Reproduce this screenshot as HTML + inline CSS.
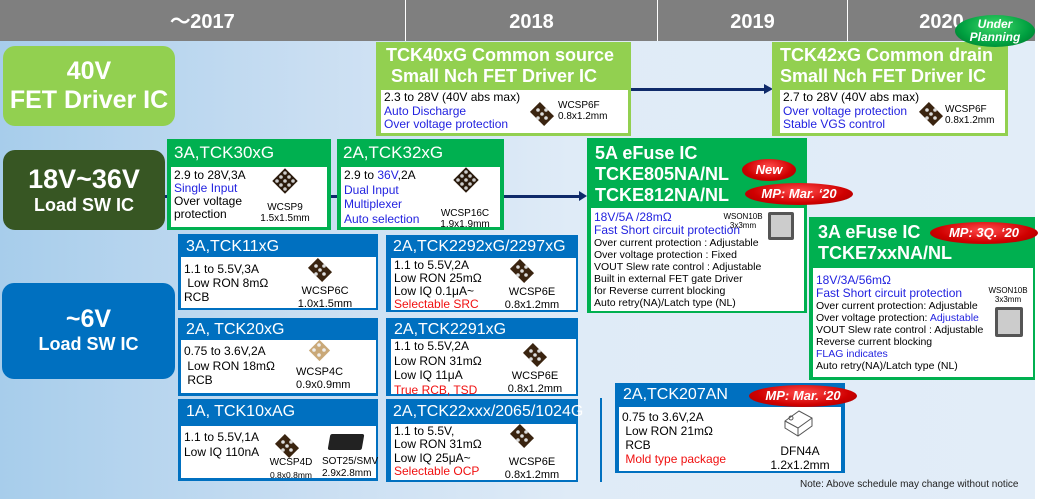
<!DOCTYPE html>
<html><head><meta charset="utf-8"><style>
*{margin:0;padding:0;box-sizing:border-box}
body{width:1043px;height:499px;position:relative;overflow:hidden;background:#fff;font-family:"Liberation Sans","DejaVu Sans",sans-serif}
.a{position:absolute}
.hd{top:0;height:41px;background:#7f7f7f;color:#fff;font-weight:bold;font-size:20px;text-align:center;line-height:44px}
.w{position:absolute;background:#fff;font-size:12px;line-height:13px;color:#000;padding:2px 3px}
.t{position:absolute;color:#fff;white-space:nowrap}
.b{color:#2323e0}.r{color:#f01010}
.pk{position:absolute;font-size:10px;line-height:11px;text-align:center;white-space:nowrap;width:80px;margin-left:-40px}
.oval{position:absolute;border-radius:50%;background:radial-gradient(ellipse at 50% 35%,#ff4a4a,#d00000 60%,#900);color:#fff;font-weight:bold;font-style:italic;text-align:center;white-space:nowrap}
</style></head><body>
<div class="a" style="left:0;top:41px;width:1035px;height:458px;background:linear-gradient(90deg,#a7cdeb 0%,#c9def2 30%,#dfebf7 55%,#e2edf8 100%)"></div>
<div class="a hd" style="left:0;width:405px">～2017</div>
<div class="a hd" style="left:406px;width:251px">2018</div>
<div class="a hd" style="left:658px;width:189px">2019</div>
<div class="a hd" style="left:848px;width:187px">2020</div>

<div class="a" style="left:3px;top:46px;width:172px;height:80px;background:#92d050;border-radius:12px;color:#fff;font-weight:bold;text-align:center;font-size:25px;line-height:29px;padding-top:11px">40V<br>FET Driver IC</div>
<div class="a" style="left:3px;top:150px;width:162px;height:80px;background:#375623;border-radius:12px;color:#fff;font-weight:bold;text-align:center;padding-top:14px"><div style="font-size:27px;line-height:30px">18V~36V</div><div style="font-size:18px;line-height:22px">Load SW IC</div></div>
<div class="a" style="left:2px;top:283px;width:173px;height:96px;background:#0070c0;border-radius:12px;color:#fff;font-weight:bold;text-align:center;padding-top:22px"><div style="font-size:25px;line-height:28px">~6V</div><div style="font-size:18px;line-height:22px">Load SW IC</div></div>

<!-- connectors -->
<div class="a" style="left:583px;top:88px;width:184px;height:3px;background:#0f2a6a"></div>
<div class="a" style="left:764px;top:84px;width:0;height:0;border-left:9px solid #0f2a6a;border-top:5px solid transparent;border-bottom:5px solid transparent"></div>
<div class="a" style="left:165px;top:195px;width:416px;height:3px;background:#0f2a6a"></div>
<div class="a" style="left:579px;top:191px;width:0;height:0;border-left:8px solid #0f2a6a;border-top:5px solid transparent;border-bottom:5px solid transparent"></div>
<div class="a" style="left:600px;top:398px;width:2px;height:84px;background:#0070c0"></div>

<!-- TCK40xG -->
<div class="a" style="left:376px;top:42px;width:255px;height:94px;background:#92d050"></div>
<div class="t" style="left:386px;top:45px;font-size:18px;font-weight:bold;line-height:21px">TCK40xG Common source<br>&nbsp;Small Nch FET Driver IC</div>
<div class="w" style="left:381px;top:90px;width:247px;height:43px;line-height:13.5px;padding-top:1px">2.3 to 28V (40V abs max)<br><span class="b">Auto Discharge<br>Over voltage protection</span></div>
<div class="pk" style="left:598px;top:100px;text-align:left">WCSP6F<br>0.8x1.2mm</div>
<!-- TCK42xG -->
<div class="a" style="left:772px;top:42px;width:236px;height:94px;background:#92d050"></div>
<div class="t" style="left:780px;top:45px;font-size:18px;font-weight:bold;line-height:21px">TCK42xG Common drain<br>Small Nch FET Driver IC</div>
<div class="w" style="left:780px;top:90px;width:225px;height:43px;line-height:13.5px;padding-top:1px">2.7 to 28V (40V abs max)<br><span class="b">Over voltage protection<br>Stable VGS control</span></div>
<div class="pk" style="left:985px;top:104px;text-align:left">WCSP6F<br>0.8x1.2mm</div>
<div class="oval" style="left:955px;top:15px;width:80px;height:32px;background:radial-gradient(ellipse at 50% 35%,#3fd86a,#00a040 60%,#006b28);font-size:12px;line-height:13px;padding-top:3px">Under<br>Planning</div>

<!-- TCK30xG -->
<div class="a" style="left:167px;top:139px;width:164px;height:91px;background:#00b050"></div>
<div class="t" style="left:174px;top:143px;font-size:17px">3A,TCK30xG</div>
<div class="w" style="left:171px;top:167px;width:156px;height:60px">2.9 to 28V,3A<br><span class="b">Single Input</span><br>Over voltage<br>protection</div>
<div class="pk" style="left:285px;top:202px">WCSP9<br>1.5x1.5mm</div>
<!-- TCK32xG -->
<div class="a" style="left:337px;top:139px;width:167px;height:91px;background:#00b050"></div>
<div class="t" style="left:343px;top:143px;font-size:17px">2A,TCK32xG</div>
<div class="w" style="left:341px;top:167px;width:159px;height:60px;line-height:14.5px;padding-top:1px">2.9 to <span class="b">36V</span>,2A<br><span class="b">Dual Input<br>Multiplexer<br>Auto selection</span></div>
<div class="pk" style="left:465px;top:208px">WCSP16C<br>1.9x1.9mm</div>

<!-- 5A eFuse -->
<div class="a" style="left:587px;top:138px;width:220px;height:175px;background:#00b050"></div>
<div class="t" style="left:595px;top:143px;font-size:18px;font-weight:bold;line-height:21px">5A eFuse IC<br>TCKE805NA/NL<br>TCKE812NA/NL</div>
<div class="oval" style="left:742px;top:159px;width:54px;height:22px;font-size:13px;line-height:22px">New</div>
<div class="oval" style="left:745px;top:183px;width:108px;height:22px;font-size:13px;line-height:22px">MP: Mar. ‘20</div>
<div class="w" style="left:591px;top:208px;width:213px;height:103px;font-size:10.5px;line-height:12px;padding-top:3px"><span class="b" style="font-size:12px">18V/5A /28mΩ<br>Fast Short circuit protection</span><br>Over current protection : Adjustable<br>Over voltage protection : Fixed<br>VOUT Slew rate control : Adjustable<br>Built in external FET gate Driver<br>for Reverse current blocking<br>Auto retry(NA)/Latch type (NL)</div>
<div class="pk" style="left:743px;top:212px;font-size:8px;line-height:9px">WSON10B<br>3x3mm</div>
<div class="a" style="left:768px;top:212px;width:26px;height:28px;background:#ccc;border:3px solid #555;border-radius:2px"></div>

<!-- 3A eFuse -->
<div class="a" style="left:809px;top:217px;width:226px;height:163px;background:#00b050"></div>
<div class="t" style="left:818px;top:222px;font-size:18px;font-weight:bold;line-height:21px">3A eFuse IC<br>TCKE7xxNA/NL</div>
<div class="oval" style="left:930px;top:222px;width:108px;height:22px;font-size:13px;line-height:22px">MP: 3Q. ‘20</div>
<div class="w" style="left:813px;top:268px;width:220px;height:109px;font-size:10.5px;line-height:12px;padding-top:6px"><span class="b" style="font-size:12px">18V/3A/56mΩ<br>Fast Short circuit protection</span><br>Over current protection: Adjustable<br>Over voltage protection: <span class="b">Adjustable</span><br>VOUT Slew rate control : Adjustable<br>Reverse current blocking<br><span class="b">FLAG indicates</span><br>Auto retry(NA)/Latch type (NL)</div>
<div class="pk" style="left:1008px;top:286px;font-size:8px;line-height:9px">WSON10B<br>3x3mm</div>
<div class="a" style="left:995px;top:307px;width:28px;height:30px;background:#ccc;border:3px solid #555;border-radius:2px"></div>

<!-- blue boxes -->
<div class="a" style="left:178px;top:234px;width:200px;height:76px;background:#0070c0"></div>
<div class="t" style="left:186px;top:238px;font-size:16px">3A,TCK11xG</div>
<div class="w" style="left:181px;top:257px;width:195px;height:51px;line-height:14px;padding-top:5px">1.1 to 5.5V,3A<br>&nbsp;Low RON 8mΩ<br>RCB</div>
<div class="pk" style="left:325px;top:285px;font-size:11px;line-height:13px">WCSP6C<br>1.0x1.5mm</div>

<div class="a" style="left:178px;top:318px;width:200px;height:78px;background:#0070c0"></div>
<div class="t" style="left:186px;top:321px;font-size:16px">2A, TCK20xG</div>
<div class="w" style="left:181px;top:340px;width:195px;height:53px;line-height:14.5px;padding-top:4px">0.75 to 3.6V,2A<br>&nbsp;Low RON 18mΩ<br>&nbsp;RCB</div>
<div class="pk" style="left:336px;top:366px;font-size:11px;line-height:13px;text-align:left">WCSP4C<br>0.9x0.9mm</div>

<div class="a" style="left:178px;top:399px;width:200px;height:82px;background:#0070c0"></div>
<div class="t" style="left:186px;top:403px;font-size:16px">1A, TCK10xAG</div>
<div class="w" style="left:181px;top:426px;width:195px;height:52px;line-height:14.5px;padding-top:4px">1.1 to 5.5V,1A<br>Low IQ 110nA</div>
<div class="pk" style="left:291px;top:457px;font-size:10px;line-height:12px">WCSP4D<br><span style="font-size:8.5px">0.8x0.8mm</span></div>
<div class="pk" style="left:362px;top:456px;font-size:10px;line-height:12px;text-align:left">SOT25/SMV<br>2.9x2.8mm</div>
<div class="a" style="left:329px;top:434px;width:34px;height:16px;background:#222;transform:skewX(-10deg);border-radius:2px"></div>

<div class="a" style="left:386px;top:235px;width:192px;height:77px;background:#0070c0"></div>
<div class="t" style="left:393px;top:238px;font-size:16px">2A,TCK2292xG/2297xG</div>
<div class="w" style="left:391px;top:258px;width:185px;height:52px;line-height:13px;padding-top:1px">1.1 to 5.5V,2A<br>Low RON 25mΩ<br>Low IQ 0.1μA~<br><span class="r">Selectable SRC</span></div>
<div class="pk" style="left:532px;top:286px;font-size:11px;line-height:13px">WCSP6E<br>0.8x1.2mm</div>

<div class="a" style="left:386px;top:318px;width:192px;height:78px;background:#0070c0"></div>
<div class="t" style="left:394px;top:321px;font-size:16px">2A,TCK2291xG</div>
<div class="w" style="left:391px;top:339px;width:185px;height:55px;line-height:14.5px;padding-top:0">1.1 to 5.5V,2A<br>Low RON 31mΩ<br>Low IQ 11μA<br><span class="r">True RCB, TSD</span></div>
<div class="pk" style="left:535px;top:370px;font-size:11px;line-height:13px">WCSP6E<br>0.8x1.2mm</div>

<div class="a" style="left:386px;top:399px;width:192px;height:83px;background:#0070c0"></div>
<div class="t" style="left:393px;top:403px;font-size:16px">2A,TCK22xxx/2065/1024G</div>
<div class="w" style="left:391px;top:424px;width:185px;height:56px;line-height:13.3px;padding-top:1px">1.1 to 5.5V,<br>Low RON 31mΩ<br>Low IQ 25μA~<br><span class="r">Selectable OCP</span></div>
<div class="pk" style="left:532px;top:456px;font-size:11px;line-height:13px">WCSP6E<br>0.8x1.2mm</div>

<!-- TCK207AN -->
<div class="a" style="left:615px;top:383px;width:230px;height:90px;background:#0070c0"></div>
<div class="t" style="left:623px;top:386px;font-size:16px">2A,TCK207AN</div>
<div class="oval" style="left:749px;top:385px;width:108px;height:22px;font-size:13px;line-height:22px">MP: Mar. ‘20</div>
<div class="w" style="left:619px;top:407px;width:222px;height:64px;line-height:14px;padding-top:3px">0.75 to 3.6V,2A<br>&nbsp;Low RON 21mΩ<br>&nbsp;RCB<br>&nbsp;<span class="r">Mold type package</span></div>
<div class="pk" style="left:800px;top:444px;font-size:12px;line-height:14px">DFN4A<br>1.2x1.2mm</div>

<div class="a" style="left:800px;top:479px;font-size:10px;color:#222;white-space:nowrap">Note: Above schedule may change without notice</div>

<svg class="a" style="left:0;top:0" width="1043" height="499">
<defs>
<g id="c6"><rect x="-7" y="-10" width="14" height="20" fill="#3a2410" transform="rotate(-45)"/><g fill="#ddd"><circle cx="-4" cy="-4" r="1.8"/><circle cx="4" cy="-4" r="1.8"/><circle cx="4" cy="4" r="1.8"/><circle cx="-4" cy="4" r="1.8"/><circle cx="0" cy="0" r="1.8"/></g></g>
<g id="c9"><rect x="-9" y="-9" width="18" height="18" fill="#2a1a0c" transform="rotate(45)"/><g fill="#ccc"><circle cx="0" cy="-8" r="1.8"/><circle cx="-4" cy="-4" r="1.8"/><circle cx="4" cy="-4" r="1.8"/><circle cx="-8" cy="0" r="1.8"/><circle cx="0" cy="0" r="1.8"/><circle cx="8" cy="0" r="1.8"/><circle cx="-4" cy="4" r="1.8"/><circle cx="4" cy="4" r="1.8"/><circle cx="0" cy="8" r="1.8"/></g></g>
</defs>
<use href="#c6" x="542" y="114"/>
<use href="#c6" x="931" y="114"/>
<use href="#c9" x="285" y="181"/>
<use href="#c9" x="466" y="180"/>
<use href="#c6" x="320" y="270"/>
<use href="#c6" x="522" y="271"/>
<use href="#c6" x="535" y="355"/>
<use href="#c6" x="522" y="436"/>
<use href="#c6" x="287" y="446"/>
<rect x="312" y="343" width="15" height="15" fill="#c9a878" transform="rotate(45 319.5 350.5)"/>
<g fill="#eee"><circle cx="319" cy="345" r="1.8"/><circle cx="314" cy="350" r="1.8"/><circle cx="324" cy="350" r="1.8"/><circle cx="319" cy="355" r="1.8"/></g>
<path d="M785 421 L799 411 L812 418 L812 426 L798 436 L785 428 Z M785 421 L798 428 L812 418 M798 428 L798 436" fill="none" stroke="#555" stroke-width="1"/>
<circle cx="791" cy="418" r="2" fill="none" stroke="#555"/>
</svg>
</body></html>
